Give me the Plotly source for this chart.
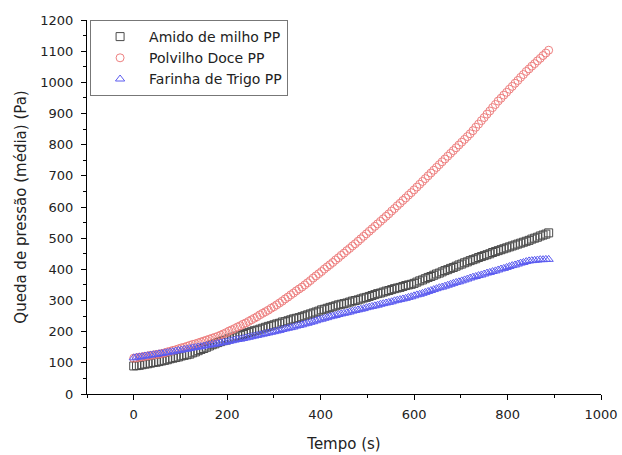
import numpy as np
import plotly.graph_objects as go

# Time axis (s): one reading every 6 s
tempo = np.arange(0, 889, 6)

# Pressure drop (Pa), averaged, for each starch
amido_milho = [
    90, 91, 92, 94, 96, 97, 99, 101, 102, 104,
    106, 108, 110, 113, 115, 117, 119, 122, 124, 126,
    128, 132, 135, 139, 143, 146, 150, 154, 158, 161,
    165, 168, 171, 173, 177, 180, 183, 186, 188, 191,
    194, 197, 200, 203, 205, 208, 211, 214, 217, 219,
    222, 225, 227, 231, 232, 235, 238, 241, 243, 245,
    248, 251, 254, 257, 260, 263, 266, 270, 272, 275,
    278, 280, 283, 286, 288, 290, 292, 295, 298, 300,
    302, 305, 308, 310, 313, 316, 319, 322, 324, 327,
    330, 332, 335, 338, 340, 342, 345, 348, 350, 352,
    355, 359, 363, 366, 370, 374, 377, 381, 385, 388,
    392, 396, 399, 403, 406, 410, 414, 417, 421, 424,
    428, 431, 434, 438, 441, 444, 447, 450, 454, 457,
    460, 463, 466, 469, 472, 475, 478, 481, 484, 487,
    490, 493, 497, 500, 503, 507, 510, 513, 517,
]

polvilho_doce = [
    115, 116, 118, 119, 121, 122, 124, 125, 127, 128,
    130, 132, 135, 137, 140, 142, 145, 148, 150, 153,
    156, 159, 161, 164, 167, 170, 173, 176, 179, 182,
    185, 189, 193, 197, 202, 206, 210, 215, 219, 224,
    228, 233, 238, 243, 248, 254, 259, 264, 269, 275,
    280, 286, 292, 298, 305, 311, 318, 324, 331, 337,
    343, 350, 357, 364, 372, 379, 386, 393, 401, 408,
    415, 422, 430, 437, 445, 452, 460, 467, 475, 482,
    490, 498, 506, 514, 522, 530, 538, 546, 554, 562,
    570, 578, 587, 595, 604, 612, 621, 629, 638, 646,
    655, 664, 673, 682, 691, 700, 709, 718, 727, 736,
    745, 754, 763, 772, 781, 790, 799, 808, 817, 826,
    835, 845, 856, 866, 877, 887, 898, 908, 919, 929,
    940, 949, 959, 968, 978, 987, 997, 1006, 1016, 1025,
    1035, 1043, 1052, 1060, 1069, 1077, 1086, 1094, 1103,
]

farinha_trigo = [
    116, 118, 119, 120, 122, 123, 125, 126, 127, 129,
    130, 132, 133, 135, 136, 138, 140, 141, 143, 144,
    146, 148, 149, 151, 152, 154, 156, 157, 159, 160,
    162, 164, 166, 167, 169, 171, 173, 175, 176, 178,
    180, 182, 184, 186, 188, 190, 192, 194, 196, 198,
    200, 202, 204, 207, 209, 211, 213, 215, 218, 220,
    222, 225, 227, 230, 232, 235, 238, 240, 243, 245,
    248, 250, 252, 255, 257, 259, 261, 263, 266, 268,
    270, 272, 274, 277, 279, 281, 283, 285, 288, 290,
    292, 294, 296, 299, 301, 303, 305, 307, 310, 312,
    315, 318, 320, 323, 326, 329, 332, 335, 338, 341,
    343, 346, 349, 352, 355, 358, 360, 363, 366, 369,
    372, 375, 377, 380, 382, 385, 388, 390, 393, 395,
    398, 401, 403, 406, 409, 412, 414, 417, 420, 422,
    425, 427, 428, 429, 430, 431, 431, 432, 432,
]

series = [
    ("Amido de milho PP", amido_milho, "square-open", "#4a4a4a"),
    ("Polvilho Doce PP", polvilho_doce, "circle-open", "#ee8080"),
    ("Farinha de Trigo PP", farinha_trigo, "triangle-up-open", "#5c5cf0"),
]

FONT = "DejaVu Sans"

fig = go.Figure()
for name, values, symbol, color in series:
    fig.add_trace(go.Scatter(
        x=tempo, y=values, name=name, mode="markers",
        marker=dict(symbol=symbol, size=8, color=color,
                    line=dict(width=1, color=color)),
    ))

axis_common = dict(
    showline=True, linecolor="black", linewidth=1,
    ticks="outside", ticklen=5, tickwidth=1, tickcolor="black",
    showgrid=False, zeroline=False, mirror=False,
    tickfont=dict(family=FONT, size=13, color="#222"),
)

fig.update_xaxes(
    range=[-100, 1000], tick0=0, dtick=200, ticklabelstandoff=3,
    minor=dict(ticks="outside", ticklen=3, dtick=100, tick0=0,
               tickcolor="black", showgrid=False),
    title=dict(text="Tempo (s)", standoff=17,
               font=dict(family=FONT, size=15, color="#222")),
    **axis_common,
)
fig.update_yaxes(
    range=[0, 1200], tick0=0, dtick=100, ticklabelstandoff=5,
    minor=dict(ticks="outside", ticklen=3, dtick=50, tick0=0,
               tickcolor="black", showgrid=False),
    title=dict(text="Queda de pressão (média) (Pa)", standoff=10,
               font=dict(family=FONT, size=15, color="#222")),
    **axis_common,
)

fig.update_layout(
    width=622, height=455,
    margin=dict(l=87, r=21, t=20, b=61, autoexpand=False),
    plot_bgcolor="white", paper_bgcolor="white",
    legend=dict(
        x=0.006, y=1.0, xanchor="left", yanchor="top",
        bgcolor="white", bordercolor="#777", borderwidth=1,
        font=dict(family=FONT, size=14, color="#222"),
        itemwidth=48, tracegroupgap=0,
    ),
    showlegend=True,
)

fig.write_html("out.html")
